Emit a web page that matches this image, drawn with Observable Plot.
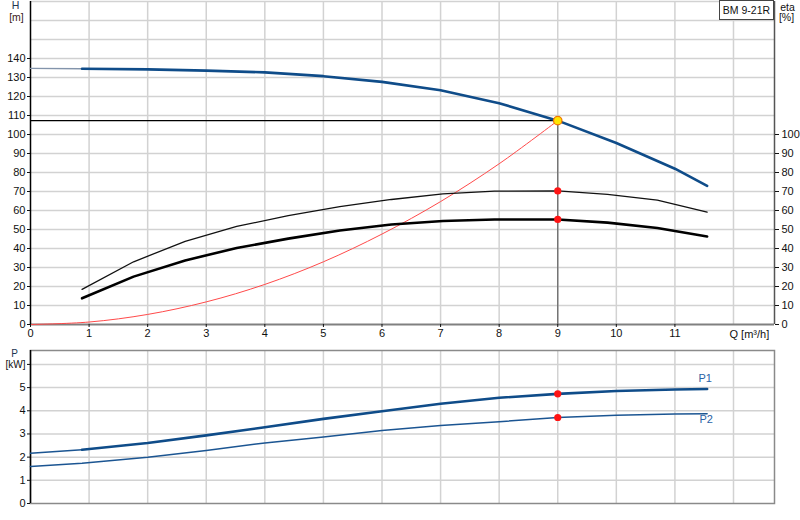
<!DOCTYPE html>
<html><head><meta charset="utf-8">
<script src="https://cdn.jsdelivr.net/npm/d3@7"></script>
<script src="https://cdn.jsdelivr.net/npm/@observablehq/plot@0.6"></script>
<style>
body{margin:0;background:#fff;font-family:"Liberation Sans",Arial,sans-serif;}
#wrap{position:relative;width:800px;height:520px;overflow:hidden;}
#top{position:absolute;left:0;top:0;}
#bot{position:absolute;left:0;top:345px;}
#box{position:absolute;left:719px;top:0;width:53px;height:18px;border:1px solid #444;background:#fff;font-family:"Liberation Sans",Arial,sans-serif;font-size:10.5px;color:#111;text-align:center;line-height:18px;white-space:nowrap;overflow:hidden;}
svg{overflow:visible;}
</style></head><body>
<div id="wrap"><div id="top"></div><div id="bot"></div><div id="box"></div></div>
<script>
// ---- data ----
const pumpName = "BM 9-21R";
const qLabel = "Q [m³/h]";
const qTicks = [0, 1, 2, 3, 4, 5, 6, 7, 8, 9, 10, 11];
const qGrid = [1, 2, 3, 4, 5, 6, 7, 8, 9, 10, 11, 12];
const hTicks = [0, 10, 20, 30, 40, 50, 60, 70, 80, 90, 100, 110, 120, 130, 140];
const hGrid = [10, 20, 30, 40, 50, 60, 70, 80, 90, 100, 110, 120, 130, 140, 150, 160, 170];
const etaTicks = [0, 10, 20, 30, 40, 50, 60, 70, 80, 90, 100];
const pTicks = [0, 1, 2, 3, 4, 5, 6];
const pGrid = [1, 2, 3, 4, 5, 6];
const qMax = 12.7, hMax = 170, pMax = 6.6;

// head curve H [m]
const hQ = [0, 0.88, 2, 3, 4, 5, 6, 7, 8, 9, 10, 11, 11.55];
const hVal = [134.8, 134.6, 134.3, 133.6, 132.7, 130.7, 127.7, 123.3, 116.5, 107.3, 95.5, 82, 73];

// efficiency curves eta [%]
const etaQ = [0.88, 1.76, 2.64, 3.52, 4.4, 5.28, 6.16, 7.04, 7.92, 9.0, 9.85, 10.7, 11.55];
const etaHyd = [18.5, 33, 43.8, 51.6, 57.3, 62, 65.8, 68.7, 70.2, 70.3, 68.5, 65.5, 59.2];
const etaTot = [13.8, 25.2, 33.7, 40.3, 45.2, 49.5, 52.6, 54.5, 55.3, 55.3, 53.6, 50.8, 46.3];

// system curve [m]
const sysQ = [0, 1, 2, 3, 4, 5, 6, 7, 8, 9];
const sysH = [0, 1.3, 5.3, 11.9, 21.1, 33, 47.6, 64.7, 84.6, 107.3];

// power curves P [kW]
const pQ = [0, 0.88, 2, 3, 4, 5, 6, 7, 8, 9, 10, 11, 11.55];
const p1Val = [2.17, 2.32, 2.61, 2.94, 3.29, 3.65, 3.98, 4.3, 4.56, 4.73, 4.85, 4.92, 4.94];
const p2Val = [1.6, 1.74, 2.0, 2.29, 2.61, 2.87, 3.15, 3.36, 3.53, 3.71, 3.81, 3.86, 3.87];

// duty point
const opQ = 9, opH = 107.3, opEtaHyd = 70.3, opEtaTot = 55.3, opP1 = 4.73, opP2 = 3.71;

// ---- tables ----
const zip = (xs, ys) => xs.map((q, i) => ({q, v: ys[i]}));
const H = zip(hQ, hVal), E1 = zip(etaQ, etaHyd), E2 = zip(etaQ, etaTot);
const SYS = zip(sysQ, sysH), P1 = zip(pQ, p1Val), P2 = zip(pQ, p2Val);

const style = {fontFamily: "Liberation Sans, Arial, sans-serif", fontSize: "11px", color: "#111", background: "transparent"};
const gridStyle = {stroke: "#d2d2d2", strokeOpacity: 1, strokeWidth: 1.5};
const blue = "#0f4c89";
const lbl = {textAnchor: "middle", lineAnchor: "middle", fontSize: 10.5};

document.getElementById("box").textContent = pumpName;

const topPlot = Plot.plot({
  width: 800, height: 345,
  marginLeft: 30, marginRight: 26, marginTop: 1, marginBottom: 21,
  x: {domain: [0, qMax]},
  y: {domain: [0, hMax]},
  style,
  marks: [
    Plot.gridX(qGrid, gridStyle),
    Plot.gridY(hGrid, gridStyle),
    Plot.ruleY([0], {stroke: "#808080", strokeWidth: 2}),
    Plot.ruleX([0], {stroke: "#000", strokeWidth: 1.5}),
    Plot.ruleX([qMax], {stroke: "#555", strokeWidth: 1.5}),
    Plot.ruleY([opH], {x1: 0, x2: opQ, stroke: "#000", strokeWidth: 1.2}),
    Plot.ruleX([opQ], {y1: 0, y2: opH, stroke: "#6a6a6a", strokeWidth: 1.3}),
    Plot.line(SYS, {x: "q", y: "v", stroke: "#ff4a4a", strokeWidth: 1, curve: "catmull-rom"}),
    Plot.line(E1, {x: "q", y: "v", stroke: "#111", strokeWidth: 1.3}),
    Plot.line(E2, {x: "q", y: "v", stroke: "#000", strokeWidth: 2.6}),
    Plot.line(H.slice(0, 2), {x: "q", y: "v", stroke: "#8394ab", strokeWidth: 1.3}),
    Plot.line(H.slice(1), {x: "q", y: "v", stroke: blue, strokeWidth: 2.6}),
    Plot.dot([{q: opQ, v: opEtaHyd}, {q: opQ, v: opEtaTot}], {x: "q", y: "v", r: 3.6, fill: "#ff1414", stroke: "none"}),
    Plot.dot([{q: opQ, v: opH}], {x: "q", y: "v", r: 4.2, fill: "#ffe600", stroke: "#f07800", strokeWidth: 1.3}),
    Plot.axisY(hTicks, {anchor: "left", tickSize: 3, tickPadding: 2, label: null}),
    Plot.axisY(etaTicks, {anchor: "right", tickSize: 4, tickPadding: 3, label: null}),
    Plot.axisX(qTicks, {anchor: "bottom", tickSize: 3, tickPadding: 2, label: null}),
    Plot.text([qLabel], {text: d => d, x: () => qGrid[qGrid.length - 1], frameAnchor: "bottom", dy: 10, dx: -4, textAnchor: "start", lineAnchor: "middle"}),
    Plot.text(["H"], {...lbl, text: d => d, frameAnchor: "top-left", dx: -15, dy: 4, fill: "#1d3550"}),
    Plot.text(["[m]"], {...lbl, text: d => d, frameAnchor: "top-left", dx: -14, dy: 16.5, fill: "#3a2020"}),
    Plot.text(["eta"], {...lbl, text: d => d, frameAnchor: "top-right", dx: 13, dy: 6}),
    Plot.text(["[%]"], {...lbl, text: d => d, frameAnchor: "top-right", dx: 12, dy: 16.5})
  ]
});
document.getElementById("top").appendChild(topPlot);

const botPlot = Plot.plot({
  width: 800, height: 175,
  marginLeft: 30, marginRight: 26, marginTop: 5, marginBottom: 17,
  x: {domain: [0, qMax], axis: null},
  y: {domain: [0, pMax]},
  style,
  marks: [
    Plot.gridX(qGrid, gridStyle),
    Plot.gridY(pGrid, gridStyle),
    Plot.frame({stroke: "#8a8a8a", strokeWidth: 1.5}),
    Plot.ruleX([0], {stroke: "#000", strokeWidth: 1.5}),
    Plot.line(P2, {x: "q", y: "v", stroke: "#1b5592", strokeWidth: 1.5}),
    Plot.line(P1.slice(0, 2), {x: "q", y: "v", stroke: "#1b5592", strokeWidth: 1.5}),
    Plot.line(P1.slice(1), {x: "q", y: "v", stroke: blue, strokeWidth: 2.6}),
    Plot.dot([{q: opQ, v: opP1}, {q: opQ, v: opP2}], {x: "q", y: "v", r: 3.6, fill: "#ff1414", stroke: "none"}),
    Plot.text([P1[P1.length - 1]], {x: "q", y: "v", text: () => "P1", dy: -11, dx: -2, fill: "#2a62a6"}),
    Plot.text([P2[P2.length - 1]], {x: "q", y: "v", text: () => "P2", dy: 6, dx: -1, fill: "#2a62a6"}),
    Plot.axisY(pTicks.slice(0, 6), {anchor: "left", tickSize: 3, tickPadding: 2, label: null}),
    Plot.axisY(pTicks.slice(6), {anchor: "left", tickSize: 3, tickPadding: 2, label: null, fontSize: 10, tickFormat: () => "[kW]"}),
    Plot.text(["P"], {...lbl, text: d => d, frameAnchor: "top-left", dx: -16, dy: 3, fontSize: 10, fill: "#1d3550"})
  ]
});
document.getElementById("bot").appendChild(botPlot);
</script>
</body></html>
